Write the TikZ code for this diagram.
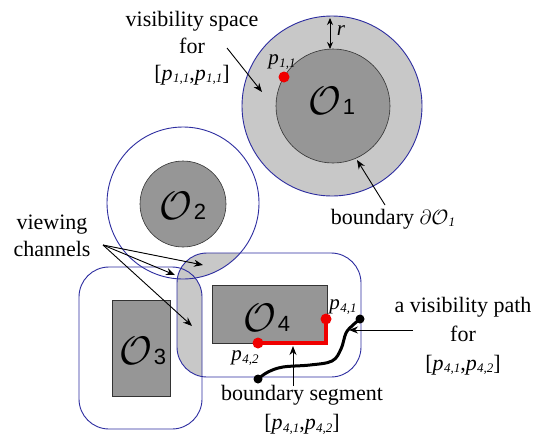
\documentclass[tikz,border=0pt]{standalone}
\usepackage{fontspec}
\setmainfont{Liberation Serif}
\newfontfamily\numfont{Liberation Sans}
\usetikzlibrary{arrows.meta}
\definecolor{lgray}{RGB}{200,200,200}
\definecolor{dgray}{RGB}{150,150,150}
\definecolor{bnavy}{RGB}{45,45,160}
\definecolor{rred}{RGB}{240,0,0}
\newcommand{\pl}[1]{\textit{p}\kern0.3pt\raisebox{-0.25ex}{\fontsize{13}{13}\selectfont\textit{#1}}}
\newcommand{\Ob}[1]{{\fontsize{24}{24}\selectfont\scalebox{1.6}{$\mathcal{O}$}}\kern1pt{\fontsize{22}{22}\selectfont\numfont #1}}
\begin{document}
\begin{tikzpicture}[x=1pt,y=-1pt,
  vis/.style={draw=bnavy,line width=0.9pt},
  obst/.style={fill=dgray,draw=black!80,line width=0.6pt},
  lbl/.style={font=\fontsize{22}{27}\selectfont,align=center,inner sep=0pt},
  plbl/.style={font=\fontsize{21}{21}\selectfont,inner sep=0pt},
  ptr/.style={-{Stealth[length=9pt,width=7pt]},line width=0.9pt},
  dbl/.style={{Stealth[length=7pt,width=6pt]}-{Stealth[length=7pt,width=6pt]},line width=0.9pt},
  olab/.style={inner sep=0pt},
  rdot/.style={circle,fill=rred,inner sep=0pt,minimum size=11pt},
  bdot/.style={circle,fill=black,inner sep=0pt,minimum size=9pt}
]
\useasboundingbox[fill=white] (0,0) rectangle (537,437);

% O1 visibility space
\fill[lgray] (332,106) circle[radius=90pt];
\draw[vis] (332,106) circle[radius=90pt];
\draw[obst] (333,106) circle[radius=57pt];

% viewing channels
\begin{scope}
\clip[rounded corners=30pt] (177,253) rectangle (361,377);
\fill[lgray] (183,203) circle[radius=76pt];
\fill[lgray, rounded corners=30pt] (79,267) rectangle (202,429);
\end{scope}

\draw[vis] (183,203) circle[radius=76pt];
\draw[vis,rounded corners=30pt] (79,267) rectangle (202,429);
\draw[vis,rounded corners=30pt] (177,253) rectangle (361,377);

\draw[obst] (183,204) circle[radius=43pt];
\draw[obst] (112,300) rectangle (170,396);
\draw[obst] (212,285) rectangle (327,343);

% obstacle labels
\node[olab] (o1) at (332,101) {\Ob{1}};
\node[olab] (o2) at (183,206) {\Ob{2}};
\node[olab] (o3) at (143,351) {\Ob{3}};
\node[olab] (o4) at (267,318) {\Ob{4}};

% r arrow
\coordinate (rt) at (330,18);
\coordinate (rb) at (330,49);
\draw[dbl] (rt) -- (rb);
\node[font=\fontsize{21}{21}\selectfont\itshape,inner sep=0pt] (rl) at (341,31) {r};

% p11
\node[rdot] (p11) at (284,77) {};
\node[plbl] (p11l) at (282,62) {\pl{1,1}};

% red boundary segment
\coordinate (p41c) at (326,343);
\draw[rred,line width=3.5pt] (326,319) -- (p41c) -- (258,343);
\node[rdot] (p41) at (326,319) {};
\node[rdot] (p42) at (258,343) {};
\node[plbl] (p41l) at (343,307) {\pl{4,1}};
\node[plbl] (p42l) at (245,358) {\pl{4,2}};

% visibility path
\draw[line width=3pt,line cap=round] plot[smooth,tension=0.6] coordinates {(258,379) (268,372) (283,367) (310,365) (332,361) (341,349) (346,333) (353,325) (360,319)};
\node[bdot] (vs) at (258,379) {};
\node[bdot] (ve) at (360,319) {};

% labels
\node[lbl] (vsp) at (192,48) {visibility space\\for\\{}[\pl{1,1},\pl{1,1}]};
\coordinate (vspa) at (227,48);
\coordinate (vspb) at (262,92);
\draw[ptr] (vspa) -- (vspb);

\node[lbl] (bd) at (393,219) {boundary $\partial\mathcal{O}$\raisebox{-0.2ex}{\fontsize{13}{13}\selectfont\textit{1}}};
\coordinate (bda) at (385,205);
\coordinate (bdb) at (357,160);
\draw[ptr] (bda) -- (bdb);

\node[lbl] (vc) at (52,236) {viewing\\channels};
\coordinate (vca) at (103,245);
\coordinate (vc1) at (203,265);
\coordinate (vc2) at (175,275);
\coordinate (vc3) at (192,326);
\draw[ptr] (vca) -- (vc1);
\draw[ptr] (vca) -- (vc2);
\draw[ptr] (vca) -- (vc3);

\node[lbl,font=\fontsize{22}{29}\selectfont] (vp) at (463,336) {a visibility path\\for\\{}[\pl{4,1},\pl{4,2}]};
\coordinate (vpa) at (413,330);
\coordinate (vpb) at (349,330);
\draw[ptr] (vpa) -- (vpb);

\node[lbl,font=\fontsize{22}{29}\selectfont] (bs) at (302,410) {boundary segment\\{}[\pl{4,1},\pl{4,2}]};
\coordinate (bsa) at (293,386);
\coordinate (bsb) at (293,346);
\draw[ptr] (bsa) -- (bsb);
\end{tikzpicture}
\end{document}
